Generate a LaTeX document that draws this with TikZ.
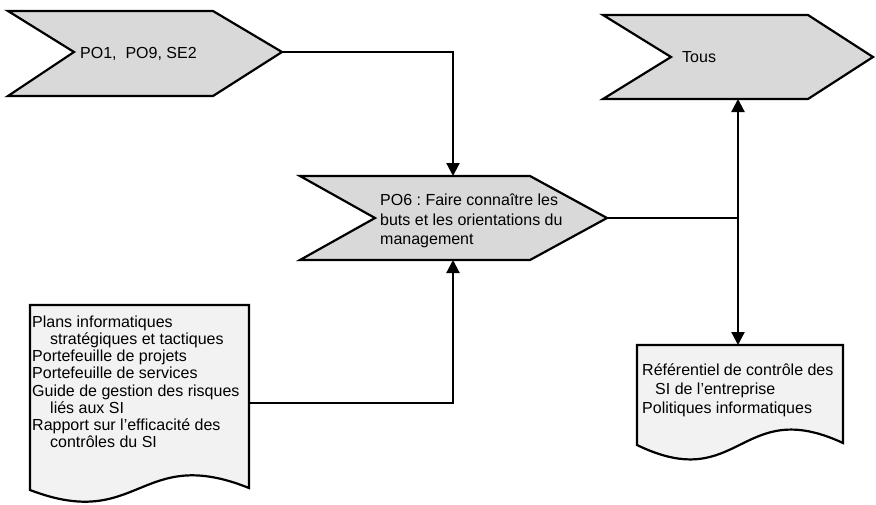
\documentclass[tikz,border=0pt]{standalone}
\usepackage{fontspec}
\setmainfont{Liberation Sans}[Ligatures=NoCommon]
\usetikzlibrary{arrows.meta}
\definecolor{chevfill}{RGB}{217,217,217}
\definecolor{docfill}{RGB}{242,242,242}
\frenchspacing
\begin{document}
\begin{tikzpicture}[x=1pt,y=-1pt,
  outline/.style={draw=black,line width=2.2pt,line join=miter},
  chevron/.style={outline,fill=chevfill},
  docshape/.style={outline,fill=docfill},
  label/.style={inner sep=0pt,font=\fontsize{16}{19.2}\selectfont,align=left,anchor=north west},
  tight/.style={font=\fontsize{16}{17.2}\selectfont},
  link/.style={draw=black,line width=2.2pt},
  flow/.style={link,-{Triangle[length=13pt,width=13pt]}}]
\useasboundingbox (0,0) rectangle (876,504);

% process chevrons
\path[chevron] (8,11) -- (213,11) -- (282,52) -- (213,96) -- (8,96) -- (74,52) -- cycle;
\path[chevron] (603,15) -- (808,15) -- (873,57) -- (808,99) -- (603,99) -- (671,57) -- cycle;
\path[chevron] (300,176) -- (530,176) -- (607,218) -- (530,260) -- (300,260) -- (375,218) -- cycle;

% document shapes with wavy bottom edge
\path[docshape] (30,305) -- (249,305) -- (249,488)
  .. controls (139.5,444) and (139.5,532) .. (30,490) -- cycle;
\path[docshape] (637,345) -- (843,345) -- (843,443)
  .. controls (740,395) and (740,495) .. (637,445) -- cycle;

% connection points
\coordinate (po1-tip) at (282,52);
\coordinate (po6-top) at (453,176);
\coordinate (po6-bot) at (453,260);
\coordinate (po6-tip) at (607,218);
\coordinate (split) at (738,218);
\coordinate (tous-bot) at (738,99);
\coordinate (ref-top) at (738,345);
\coordinate (in-right) at (249,403);

% texts
\node[label,anchor=base west] (po1) at (80,58) {PO1,\ \ PO9, SE2};
\node[label,anchor=base west] (tous) at (682,62) {Tous};
\node[label] (po6) at (380,192.3) {\strut PO6 : Faire connaître les\\buts et les orientations du\\management};
\node[label,tight] (inputs) at (32,315) {\strut Plans informatiques\\\hspace*{18pt}stratégiques et tactiques\\Portefeuille de projets\\Portefeuille de services\\Guide de gestion des risques\\\hspace*{18pt}liés aux SI\\Rapport sur l’efficacité des\\\hspace*{18pt}contrôles du SI};
\node[label] (outputs) at (642,361.6) {\strut Référentiel de contrôle des\\\hspace*{13pt}SI de l’entreprise\\Politiques informatiques};

% connectors
\draw[flow] (po1-tip) -| (po6-top);
\draw[flow] (in-right) -| (po6-bot);
\draw[link] (po6-tip) -- (split);
\draw[flow] (split) -- (tous-bot);
\draw[flow] (split) -- (ref-top);
\end{tikzpicture}
\end{document}
